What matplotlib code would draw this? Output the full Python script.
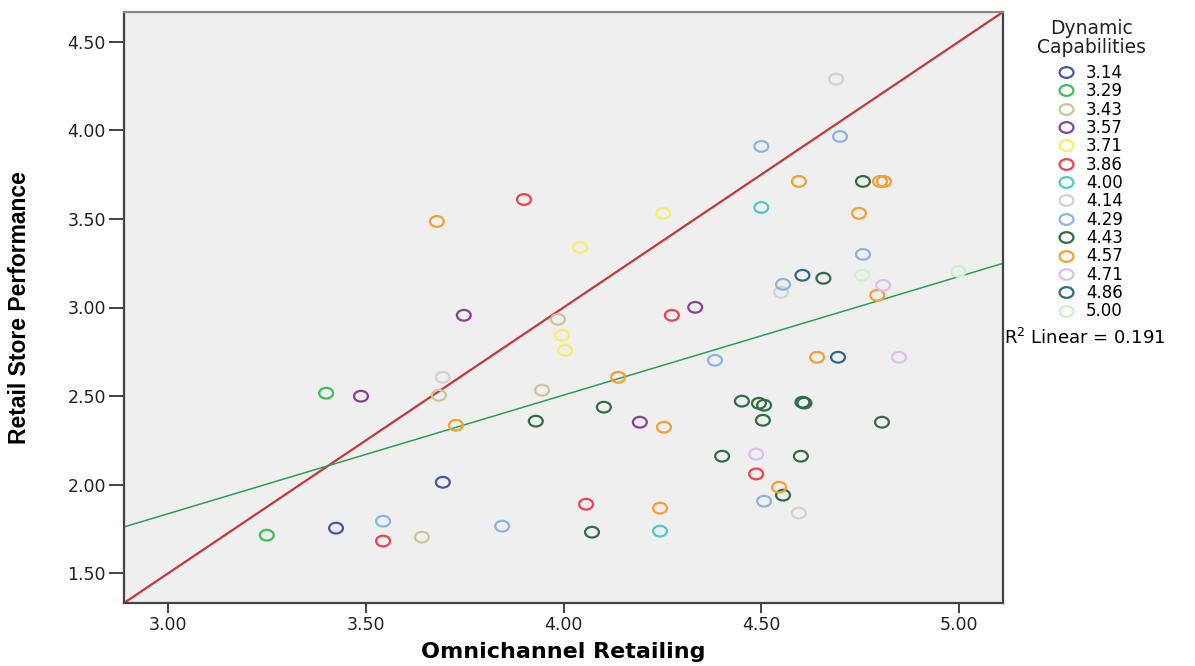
import matplotlib
matplotlib.use("Agg")
import matplotlib.pyplot as plt
from matplotlib.path import Path
from matplotlib.transforms import Affine2D
from matplotlib.lines import Line2D
import numpy as np

# capability levels and their colours (legend order)
levels = ['3.14', '3.29', '3.43', '3.57', '3.71', '3.86', '4.00',
          '4.14', '4.29', '4.43', '4.57', '4.71', '4.86', '5.00']
level_colors = ['#4356b0', '#3cbf55', '#cdc59a', '#8b3f96', '#f5ef6a', '#ee4250', '#4ec9c9',
                '#d2d2d2', '#8db4df', '#2f6e45', '#f5a030', '#dcbff2', '#2d6a88', '#c9f5c9']

# points per level: omnichannel retailing (x), retail store performance (y)
omni = {
    '3.14': [3.425, 3.695],
    '3.29': [3.250, 3.400],
    '3.43': [3.642, 3.685, 3.946, 3.986],
    '3.57': [3.488, 3.748, 4.193, 4.333],
    '3.71': [4.042, 4.252, 3.996, 4.004],
    '3.86': [3.900, 3.544, 4.057, 4.274, 4.487],
    '4.00': [4.500, 4.244],
    '4.14': [3.695, 4.689, 4.550, 4.595],
    '4.29': [4.500, 4.699, 4.757, 4.555, 3.544, 3.845, 4.383, 4.507],
    '4.43': [4.757, 4.657, 3.930, 4.102, 4.072, 4.451, 4.494, 4.507, 4.604, 4.609,
             4.504, 4.805, 4.401, 4.600, 4.555],
    '4.57': [3.680, 4.800, 4.810, 4.595, 4.747, 4.793, 4.138, 4.254, 3.728, 4.641,
             4.545, 4.244],
    '4.71': [4.808, 4.848, 4.487],
    '4.86': [4.604, 4.694],
    '5.00': [4.755, 4.998],
}
perf = {
    '3.14': [1.754, 2.013],
    '3.29': [1.714, 2.516],
    '3.43': [1.703, 2.504, 2.533, 2.933],
    '3.57': [2.499, 2.956, 2.352, 3.001],
    '3.71': [3.340, 3.532, 2.843, 2.758],
    '3.86': [3.610, 1.681, 1.889, 2.956, 2.060],
    '4.00': [3.565, 1.737],
    '4.14': [2.606, 4.290, 3.086, 1.839],
    '4.29': [3.910, 3.966, 3.300, 3.131, 1.793, 1.765, 2.702, 1.906],
    '4.43': [3.712, 3.165, 2.358, 2.437, 1.731, 2.471, 2.459, 2.448, 2.465, 2.460,
             2.363, 2.352, 2.160, 2.160, 1.940],
    '4.57': [3.486, 3.712, 3.712, 3.712, 3.532, 3.069, 2.606, 2.324, 2.335, 2.719,
             1.985, 1.867],
    '4.71': [3.125, 2.719, 2.172],
    '4.86': [3.182, 2.719],
    '5.00': [3.182, 3.204],
}

# linear fit (total)
fit_intercept = -0.175
fit_slope = 0.670
r_squared = 0.191

xlim = (2.889, 5.111)
ylim = (1.331, 4.669)
xticks = [3.0, 3.5, 4.0, 4.5, 5.0]
yticks = [1.5, 2.0, 2.5, 3.0, 3.5, 4.0, 4.5]

plt.rcParams['font.family'] = ['DejaVu Sans']

fig = plt.figure(figsize=(11.95, 6.66), dpi=100)
ax = fig.add_axes([124 / 1195, 63 / 666, 879 / 1195, 591 / 666])
ax.set_facecolor('#efefef')

# slightly wide ring marker like the SPSS output
ring = Path.unit_circle().transformed(Affine2D().scale(1.3, 1.0))

for lev, col in zip(levels, level_colors):
    ax.scatter(omni[lev], perf[lev], marker=ring, s=100, facecolors='none',
               edgecolors=col, linewidths=1.6, zorder=3)

ax.set_xlim(xlim)
ax.set_ylim(ylim)

# diagonal reference line (corner to corner)
ax.plot(xlim, ylim, color='#c4373d', lw=1.6, zorder=2)
# fit line
fx = np.array(xlim)
ax.plot(fx, fit_intercept + fit_slope * fx, color='#2e9e55', lw=1.1, zorder=2)

ax.set_xticks(xticks)
ax.set_yticks(yticks)
ax.set_xticklabels(['%.2f' % v for v in xticks])
ax.set_yticklabels(['%.2f' % v for v in yticks])
ax.tick_params(direction='out', width=1.3, color='#333333',
               labelsize=12.5, labelcolor='#222222')
ax.tick_params(axis='y', length=11, pad=2)
ax.tick_params(axis='x', length=7, pad=2)

for side in ['left', 'bottom', 'right']:
    ax.spines[side].set_color('#444444')
    ax.spines[side].set_linewidth(1.6)
ax.spines['top'].set_color('#888888')
ax.spines['top'].set_linewidth(1.6)

ax.set_xlabel('Omnichannel Retailing', fontsize=16, fontweight='bold', labelpad=6)
ax.set_ylabel('Retail Store Performance', fontsize=16.5, fontweight='bold',
              family=['Liberation Sans', 'DejaVu Sans'], labelpad=26)

# legend title drawn on its own so the gap to the entries matches
fig.text(1092 / 1195, 1 - 38 / 666, 'Dynamic\nCapabilities', fontsize=13.5,
         ha='center', va='center', multialignment='center', linespacing=0.95,
         color='#222222')

handles = [Line2D([], [], ls='none', marker=ring, markersize=10, markerfacecolor='none',
                  markeredgecolor=c, markeredgewidth=1.6) for c in level_colors]
leg = fig.legend(handles, levels, loc='upper left',
                 bbox_to_anchor=(1056 / 1195, 1 - 64 / 666), frameon=False,
                 fontsize=12, labelspacing=0.02,
                 handletextpad=0.6, handlelength=1.2, borderaxespad=0, borderpad=0)

fig.text(1004 / 1195, 1 - 338 / 666, 'R$^2$ Linear = %.3f' % r_squared,
         fontsize=13, va='center', ha='left')

fig.savefig('out.png', dpi=100)
